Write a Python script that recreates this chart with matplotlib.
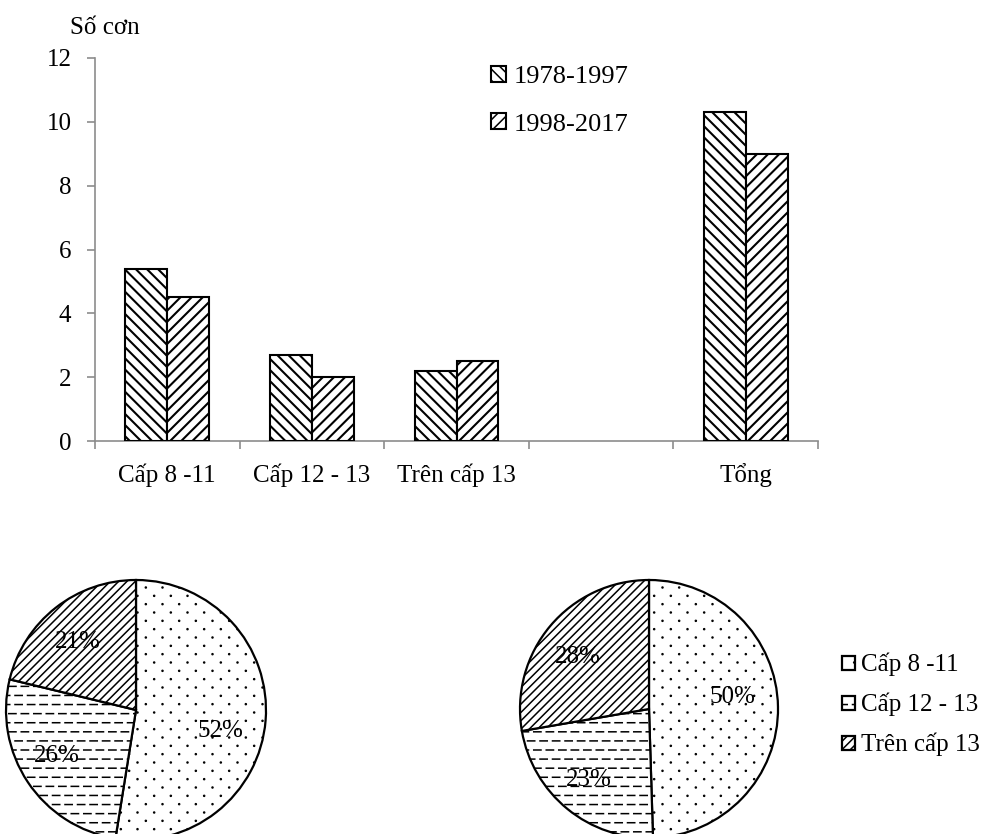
import numpy as np
import matplotlib
matplotlib.use("Agg")
import matplotlib.pyplot as plt
import matplotlib.hatch as mhatch
from matplotlib.path import Path

# ---------------- data ----------------
bar_categories = ['Cấp 8 -11', 'Cấp 12 - 13', 'Trên cấp 13', '', 'Tổng']
series_names = ['1978-1997', '1998-2017']
values_1978_1997 = [5.4, 2.7, 2.2, np.nan, 10.3]
values_1998_2017 = [4.5, 2.0, 2.5, np.nan, 9.0]
y_ticks = [0, 2, 4, 6, 8, 10, 12]
y_label = 'Số cơn'

pie_categories = ['Cấp 8 -11', 'Cấp 12 - 13', 'Trên cấp 13']
pie_1978_1997 = [52, 26, 21]
pie_1998_2017 = [50, 23, 28]


# ---------------- custom hatches ----------------
class DashedHorizontal(mhatch.HatchPatternBase):
    dashes_per_unit = 8
    dash_frac = 0.58

    def __init__(self, hatch, density):
        self.num_lines = int((hatch.count('-') + hatch.count('+')) * 11)
        self.num_vertices = self.num_lines * (self.dashes_per_unit + 1) * 2

    def set_vertices_and_codes(self, vertices, codes):
        if self.num_lines == 0:
            return
        steps, stepsize = np.linspace(0.0, 1.0, self.num_lines, False, retstep=True)
        steps = steps + stepsize / 2.
        period = 1.0 / self.dashes_per_unit
        dl = period * self.dash_frac
        i = 0
        for r, y in enumerate(steps):
            off = (period / 2) if r % 2 else 0.0
            for k in range(self.dashes_per_unit + 1):
                x0 = off + (k - 1) * period + period * 0.2
                x0c = min(max(x0, 0.0), 1.0)
                x1c = min(max(x0 + dl, 0.0), 1.0)
                vertices[i] = (x0c, y)
                vertices[i + 1] = (x1c, y)
                codes[i] = Path.MOVETO
                codes[i + 1] = Path.LINETO
                i += 2

    get_vertices_and_codes = set_vertices_and_codes


class SparseDots(mhatch.HatchPatternBase):
    rows = 12
    cols = 6
    radius = 0.005
    nseg = 8

    def __init__(self, hatch, density):
        self.n = hatch.count('.')
        if self.n:
            self.centers = []
            for r in range(self.rows):
                y = (r + 0.5) / self.rows
                off = 0.5 / self.cols if r % 2 else 0.0
                for c in range(self.cols):
                    self.centers.append((off + (c + 0.25) / self.cols, y))
            self.num_vertices = len(self.centers) * (self.nseg + 1)
        else:
            self.num_vertices = 0

    def set_vertices_and_codes(self, vertices, codes):
        if not self.n:
            return
        t = np.linspace(0, 2 * np.pi, self.nseg, endpoint=False)
        circ = np.column_stack([np.cos(t), np.sin(t)]) * self.radius
        i = 0
        for (cx, cy) in self.centers:
            vertices[i:i + self.nseg] = circ + (cx, cy)
            vertices[i + self.nseg] = (cx, cy)
            codes[i] = Path.MOVETO
            codes[i + 1:i + self.nseg] = Path.LINETO
            codes[i + self.nseg] = Path.CLOSEPOLY
            i += self.nseg + 1

    get_vertices_and_codes = set_vertices_and_codes


_new_types = []
for t in mhatch._hatch_types:
    if t is mhatch.HorizontalHatch:
        _new_types.append(DashedHorizontal)
    elif t is mhatch.SmallFilledCircles:
        _new_types.append(SparseDots)
    else:
        _new_types.append(t)
mhatch._hatch_types = _new_types

plt.rcParams['font.family'] = ['Liberation Serif', 'DejaVu Serif']
plt.rcParams['font.size'] = 18
plt.rcParams['hatch.linewidth'] = 1.1

W, H = 989, 834
fig = plt.figure(figsize=(W / 100, H / 100), dpi=100)

# ---------------- bar chart ----------------
ax = fig.add_axes([95 / W, 1 - 441 / H, (818 - 95) / W, (441 - 58) / H])
x = np.arange(len(bar_categories))
bw = 0.29
bar_hatches = ['\\\\\\', '///']
for i, (vals, name, h) in enumerate(zip([values_1978_1997, values_1998_2017],
                                        series_names, bar_hatches)):
    vals = np.array(vals, dtype=float)
    mask = ~np.isnan(vals)
    bars = ax.bar(x[mask] + (i - 0.5) * bw, vals[mask], width=bw, facecolor='white',
                  edgecolor='black', linewidth=1.5, hatch=h, label=name, zorder=3)
    for b in bars:
        if hasattr(b, 'set_hatch_linewidth'):
            b.set_hatch_linewidth(1.5)

ax.set_xlim(-0.5, len(bar_categories) - 0.5)
ax.set_ylim(0, 12)
ax.set_yticks(y_ticks)
ax.set_xticks(np.arange(-0.5, len(bar_categories), 1.0))
ax.set_xticklabels([])
ax.set_xticks(x, minor=True)
ax.set_xticklabels(bar_categories, minor=True)
for s in ['top', 'right']:
    ax.spines[s].set_visible(False)
for s in ['left', 'bottom']:
    ax.spines[s].set_color('#8c8c8c')
    ax.spines[s].set_linewidth(1.2)
ax.tick_params(axis='y', direction='out', length=6, width=1.2, color='#8c8c8c', pad=11)
ax.tick_params(axis='x', which='major', direction='out', length=6, width=1.2, color='#8c8c8c')
ax.tick_params(axis='x', which='minor', length=0, pad=16)
fig.text(105 / W, 1 - 28 / H, y_label, ha='center', va='center')

ax.legend(loc='upper left', bbox_to_anchor=(491 / W, 1 - 66 / H),
          bbox_transform=fig.transFigure, frameon=False, handlelength=0.55,
          handleheight=0.55, handletextpad=0.3, labelspacing=0.95,
          borderaxespad=0, borderpad=0, fontsize=19)

# ---------------- pies ----------------
pie_hatches = ['.', '-', '////']
label_offsets_1 = [(0.65, -0.16), (-0.61, -0.35), (-0.45, 0.52)]
label_offsets_2 = [(0.65, 0.09), (-0.47, -0.55), (-0.55, 0.40)]


def draw_pie(cx, cy, r, vals, offsets):
    a = fig.add_axes([(cx - r) / W, 1 - (cy + r) / H, 2 * r / W, 2 * r / H])
    wedges, _ = a.pie(vals, startangle=90, counterclock=False, radius=1,
                      colors=['white'] * 3,
                      wedgeprops=dict(edgecolor='black', linewidth=1.6))
    for w, h in zip(wedges, pie_hatches):
        w.set_hatch(h)
        w.set_clip_on(False)
    for v, (dx, dy) in zip(vals, offsets):
        a.text(dx, dy, f'{v}%', ha='center', va='center')
    a.set_xlim(-1, 1)
    a.set_ylim(-1, 1)
    a.set_aspect('auto')
    a.axis('off')
    return wedges


wedges = draw_pie(136, 710, 130, pie_1978_1997, label_offsets_1)
draw_pie(649, 709, 129, pie_1998_2017, label_offsets_2)

fig.legend(wedges, pie_categories, loc='upper left',
           bbox_to_anchor=(842 / W, 1 - 653 / H), frameon=False,
           handlelength=0.5, handleheight=0.5, handletextpad=0.25,
           labelspacing=0.66, borderaxespad=0, borderpad=0)

fig.savefig('out.png', dpi=100)
